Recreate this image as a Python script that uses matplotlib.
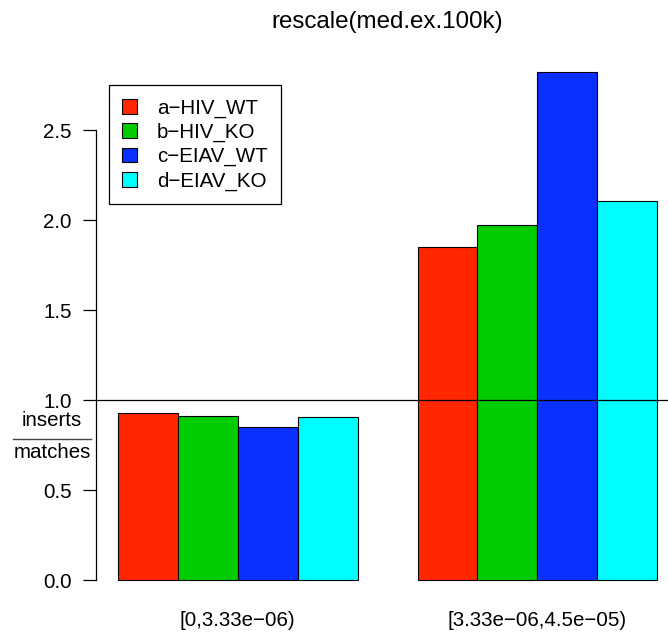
import matplotlib
matplotlib.use('Agg')
import matplotlib.pyplot as plt
from matplotlib.patches import Patch
from matplotlib.lines import Line2D

plt.rcParams['font.family'] = ['Liberation Sans', 'DejaVu Sans']

groups = ['[0,3.33e\u221206)', '[3.33e\u221206,4.5e\u221205)']
series = ['a\u2212HIV_WT', 'b\u2212HIV_KO', 'c\u2212EIAV_WT', 'd\u2212EIAV_KO']
colors = ['#FF2600', '#00CC00', '#0A30FF', '#00FDFF']
values = [
    [0.928, 1.851],
    [0.912, 1.972],
    [0.851, 2.820],
    [0.907, 2.103],
]
yticks = [0.0, 0.5, 1.0, 1.5, 2.0, 2.5]

W, H = 668, 634
fs = 14.8
fig = plt.figure(figsize=(W / 100, H / 100), dpi=100)

# plot region in pixels (R style, 4% padding on x range 1..10)
px_per_x = 59.9
left_px = 118 - 0.36 * px_per_x
xmin = 0.64
xmax = xmin + (W - left_px) / px_per_x
ylo, yhi = -0.113, 2.93
y0_px, py = 580, 180.0
bot_px = y0_px - ylo * py
top_px = y0_px - yhi * py
ax = fig.add_axes([left_px / W, 1 - bot_px / H, (W - left_px) / W, (bot_px - top_px) / H])
ax.set_xlim(xmin, xmax)
ax.set_ylim(ylo, yhi)

for i, (name, col) in enumerate(zip(series, colors)):
    xs = [1 + g * 5 + i + 0.5 for g in range(len(groups))]
    ax.bar(xs, values[i], width=1.0, color=col, edgecolor='black', linewidth=0.8)

ax.axhline(1.0, color='black', linewidth=0.9)

for s in ['top', 'right', 'bottom']:
    ax.spines[s].set_visible(False)
ax.spines['left'].set_bounds(0, 2.5)
ax.spines['left'].set_linewidth(0.9)
ax.set_yticks(yticks)
ax.set_yticklabels(['%.1f' % t for t in yticks])
ax.tick_params(axis='y', length=9.4, width=0.9, pad=8.5, labelsize=fs)
ax.set_xticks([3, 8])
ax.set_xticklabels(groups)
ax.tick_params(axis='x', length=0, pad=8, labelsize=fs)

fig.text(387.5 / W, 1 - 22 / H, 'rescale(med.ex.100k)', ha='center', va='center', fontsize=17.4)

# fraction label
fig.text(52 / W, 1 - 421 / H, 'inserts', ha='center', va='center', fontsize=fs)
fig.text(52 / W, 1 - 453 / H, 'matches', ha='center', va='center', fontsize=fs)
fig.add_artist(Line2D([13 / W, 91 / W], [1 - 439 / H, 1 - 439 / H], color='#444444', linewidth=1.0))

handles = [Patch(facecolor=c, edgecolor='black', linewidth=0.8) for c in colors]
leg = ax.legend(handles, series, loc='upper left', bbox_to_anchor=(109 / W, 1 - 85 / H),
                bbox_transform=fig.transFigure, borderaxespad=0, fontsize=fs,
                fancybox=False, edgecolor='black', framealpha=1,
                handlelength=0.72, handleheight=0.72, handletextpad=0.95,
                labelspacing=0.25, borderpad=0.65)
leg.get_frame().set_linewidth(0.9)

fig.savefig('out.png', dpi=100)
